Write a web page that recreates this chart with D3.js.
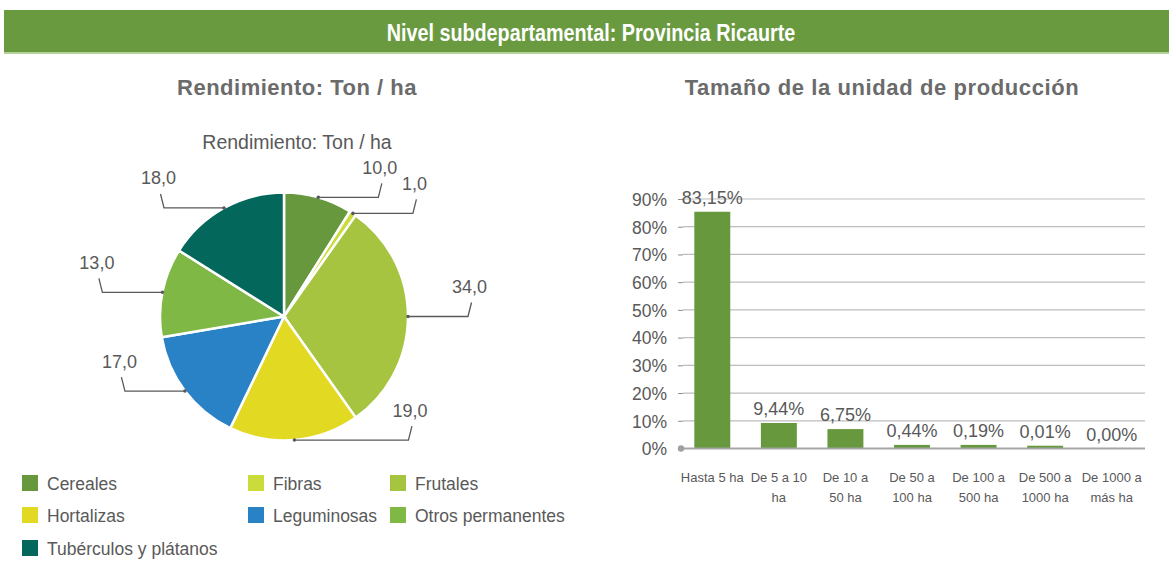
<html>
<head>
<meta charset="utf-8">
<script src="https://d3js.org/d3.v7.min.js"></script>
<style>
  body { margin: 0; background: #fff; }
  text { font-family: "Liberation Sans", Arial, sans-serif; }
</style>
</head>
<body>
<div id="chart"></div>
<script>
// ---- data ----
const headerText = "Nivel subdepartamental: Provincia Ricaurte";
const pieTitle = "Rendimiento: Ton / ha";
const barTitle = "Tamaño de la unidad de producción";

const pieCats = ["Cereales", "Fibras", "Frutales", "Hortalizas", "Leguminosas", "Otros permanentes", "Tubérculos y plátanos"];
const pieValues = [10, 1, 34, 19, 17, 13, 18];
const pieColors = ["#67983e", "#c9dc3a", "#a6c43f", "#e2d923", "#2a82c6", "#80b845", "#03675b"];

const barCats = ["Hasta 5 ha", "De 5 a 10\nha", "De 10 a\n50 ha", "De 50 a\n100 ha", "De 100 a\n500 ha", "De 500 a\n1000 ha", "De 1000 a\nmás ha"];
const barValues = [85.4, 9.2, 7.0, 1.3, 1.3, 1.0, 0];   // bar heights as drawn (%)
const barLabels = ["83,15%", "9,44%", "6,75%", "0,44%", "0,19%", "0,01%", "0,00%"];
const yTicks = [0, 10, 20, 30, 40, 50, 60, 70, 80, 90];

const grey = "#595959";

const svg = d3.select("#chart").append("svg")
  .attr("width", 1169).attr("height", 561);

// header band
svg.append("rect").attr("x", 4).attr("y", 10).attr("width", 1165).attr("height", 43).attr("fill", "#699a40");
svg.append("rect").attr("x", 4).attr("y", 52).attr("width", 1165).attr("height", 2).attr("fill", "#b3d19a");
// condensed look: squeeze the bold text horizontally
svg.append("text")
  .attr("transform", "translate(591,41) scale(0.86,1)")
  .attr("text-anchor", "middle")
  .style("font-weight", "bold").style("font-size", "23px")
  .attr("fill", "#fff")
  .text(headerText);

// section titles
svg.append("text").attr("x", 297).attr("y", 95).attr("text-anchor", "middle")
  .style("font-weight", "bold").style("font-size", "22px").style("letter-spacing", "0.5px")
  .attr("fill", "#6b6b6b").text(pieTitle);
svg.append("text").attr("x", 882).attr("y", 95).attr("text-anchor", "middle")
  .style("font-weight", "bold").style("font-size", "22px").style("letter-spacing", "0.6px")
  .attr("fill", "#6b6b6b").text(barTitle);

// ---- pie ----
const cx = 284, cy = 316.5, r = 124;
const pieG = svg.append("g").attr("transform", `translate(${cx},${cy})`);

pieG.append("text").attr("x", 13).attr("y", -168).attr("text-anchor", "middle")
  .style("font-size", "19.5px").attr("fill", grey).text(pieTitle);

const pie = d3.pie().sort(null).value(d => d);
const arc = d3.arc().innerRadius(0).outerRadius(r);
const arcs = pie(pieValues);

pieG.selectAll("path.slice")
  .data(arcs)
  .join("path")
  .attr("class", "slice")
  .attr("d", arc)
  .attr("fill", (d, i) => pieColors[i])
  .attr("stroke", "#fff")
  .attr("stroke-width", 2.5);

// labels with leader lines
const fmt = v => v.toFixed(1).replace(".", ",");
arcs.forEach((d, i) => {
  const a = (d.startAngle + d.endAngle) / 2;
  const px = Math.sin(a) * r, py = -Math.cos(a) * r;
  const side = Math.sin(a) >= 0 ? 1 : -1;
  const lbl = pieG.append("text")
    .attr("text-anchor", "middle")
    .style("font-size", "18px").attr("fill", grey)
    .text(fmt(d.data));
  const w = lbl.node().getComputedTextLength();
  let len = 60, ex, tx, ty;
  for (;;) {
    ex = px + side * len;
    tx = ex + side * 3.5;
    ty = py - 14;
    const lx = tx - 2, ly = ty - 16;
    // push the label out until its box clears the pie
    const nx = Math.max(lx - w / 2, Math.min(0, lx + w / 2));
    const ny = Math.max(ly - 8, Math.min(0, ly + 8));
    if (Math.hypot(nx, ny) > r + 14 || len > 200) break;
    len += 2;
  }
  lbl.attr("x", tx - 2).attr("y", ty - 9.5);
  pieG.append("path")
    .attr("d", `M${px},${py}L${ex},${py}L${tx},${ty}`)
    .attr("fill", "none").attr("stroke", grey).attr("stroke-width", 1.3);
  pieG.append("circle").attr("cx", px).attr("cy", py).attr("r", 1.8).attr("fill", grey);
});

// legend
const legCols = [22, 248, 390], legRows = [475, 507, 540];
const leg = svg.append("g");
pieCats.forEach((c, i) => {
  const x = legCols[i % 3], y = legRows[Math.floor(i / 3)];
  leg.append("rect").attr("x", x).attr("y", y).attr("width", 16).attr("height", 16).attr("fill", pieColors[i]);
  leg.append("text").attr("x", x + 25).attr("y", y + 14.5)
    .style("font-size", "17.5px").attr("fill", grey).text(c);
});

// ---- bars ----
const x = d3.scaleBand().domain(barCats).range([679, 1145]).paddingInner(0.46).paddingOuter(0.23);
const y = d3.scaleLinear().domain([0, 90]).range([448.5, 199]);

const yAxis = svg.append("g")
  .attr("transform", "translate(683,0)")
  .call(d3.axisLeft(y).tickValues(yTicks).tickSize(5).tickPadding(11).tickFormat(d => d + "%"));
yAxis.select(".domain").remove();
yAxis.selectAll("line").attr("stroke", "#8c8c8c");
yAxis.selectAll("text").style("font-size", "17.5px").style("font-family", "'Liberation Sans', Arial, sans-serif")
  .attr("fill", grey).attr("dy", "0.36em");

svg.append("g").selectAll("line")
  .data(yTicks.filter(t => t > 0))
  .join("line")
  .attr("x1", 683).attr("x2", 1145)
  .attr("y1", d => y(d)).attr("y2", d => y(d))
  .attr("stroke", "#bdbdbd").attr("stroke-width", 1.2);

svg.append("g").selectAll("rect")
  .data(barValues)
  .join("rect")
  .attr("x", (d, i) => x(barCats[i]))
  .attr("y", d => y(d))
  .attr("width", x.bandwidth())
  .attr("height", d => y(0) - y(d))
  .attr("fill", "#67983e");

svg.append("line").attr("x1", 681).attr("x2", 1145).attr("y1", y(0)).attr("y2", y(0))
  .attr("stroke", "#a6a6a6").attr("stroke-width", 2);
svg.append("circle").attr("cx", 681).attr("cy", y(0)).attr("r", 3.2).attr("fill", "#a0a0a0");

svg.append("g").selectAll("text")
  .data(barLabels)
  .join("text")
  .attr("x", (d, i) => x(barCats[i]) + x.bandwidth() / 2)
  .attr("y", (d, i) => y(barValues[i]) - 8)
  .attr("text-anchor", "middle")
  .style("font-size", "18px").attr("fill", grey)
  .text(d => d);

const xl = svg.append("g").selectAll("text")
  .data(barCats)
  .join("text")
  .attr("text-anchor", "middle")
  .attr("transform", d => `translate(${x(d) + x.bandwidth() / 2},482)`)
  .style("font-size", "13px").attr("fill", grey);
xl.selectAll("tspan")
  .data(d => d.split("\n"))
  .join("tspan")
  .attr("x", 0).attr("y", (d, i) => i * 19.5)
  .text(d => d);
</script>
</body>
</html>
